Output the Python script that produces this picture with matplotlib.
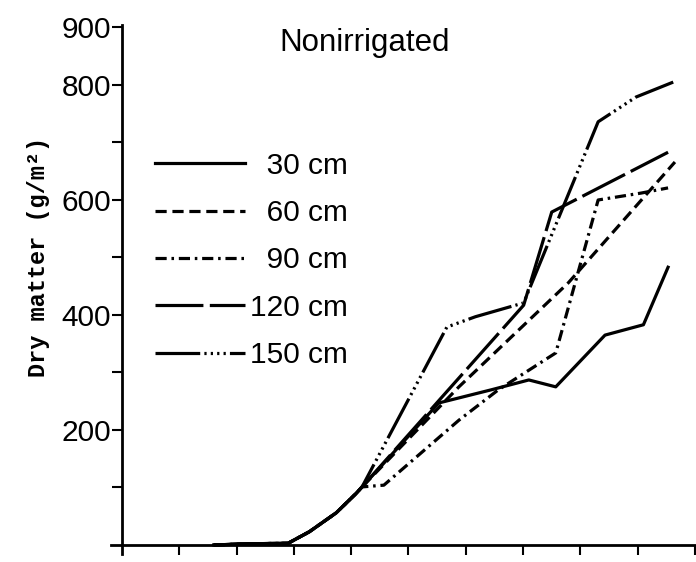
import matplotlib
matplotlib.use("Agg")
import matplotlib.pyplot as plt

# shared early part of the growth curves (x in tick units, dry matter g/m2)
x_early = [1.6, 2.2, 2.9, 3.27, 3.74, 4.09, 4.19]
y_early = [0, 2, 3, 23, 56, 90, 101]

x_30 = x_early + [5.53, 6.45, 7.10, 7.57, 8.43, 9.10, 9.53]
y_30 = y_early + [247, 270, 287, 275, 365, 383, 483]

x_60 = x_early + [5.88, 7.79, 9.65]
y_60 = y_early + [275, 456, 666]

x_90 = x_early + [4.57, 5.88, 6.57, 7.57, 8.31, 9.06, 9.53]
y_90 = y_early + [104, 217, 270, 334, 600, 612, 621]

x_120 = x_early + [7.01, 7.50, 9.53]
y_120 = y_early + [417, 579, 683]

x_150 = x_early + [5.67, 6.17, 7.01, 8.31, 8.97, 9.62]
y_150 = y_early + [379, 397, 421, 736, 779, 805]

# figure space in front of the short labels keeps them right aligned
labels = ["\u200730 cm", "\u200760 cm", "\u200790 cm", "120 cm", "150 cm"]
yticks = [100, 200, 300, 400, 500, 600, 700, 800, 900]
yticklabels = ["", "200", "", "400", "", "600", "", "800", "900"]

fig = plt.figure(figsize=(6.96, 5.62), dpi=100)
ax = fig.add_axes([110.5 / 696, 8.4 / 562, 584.5 / 696, 529 / 562])

lw = 2.3
ax.plot(x_30, y_30, color="black", lw=lw, label=labels[0])
ax.plot(x_60, y_60, color="black", lw=lw, ls=(0, (3.5, 1.8)), label=labels[1])
ax.plot(x_90, y_90, color="black", lw=lw, ls=(0, (3.5, 1.5, 0.8, 1.5)), label=labels[2])
ax.plot(x_120, y_120, color="black", lw=lw, ls=(0, (15, 2)), label=labels[3])
ax.plot(x_150, y_150, color="black", lw=lw,
        ls=(0, (14, 1.3, 0.7, 1.3, 0.7, 1.3, 0.7, 1.3, 0.7, 1.3)), label=labels[4])

ax.set_xlim(-0.2, 10)
ax.set_ylim(-15, 905)
for s in ["top", "right"]:
    ax.spines[s].set_visible(False)
ax.spines["left"].set_position(("data", 0))
ax.spines["bottom"].set_position(("data", 0))
ax.spines["left"].set_linewidth(2)
ax.spines["bottom"].set_linewidth(2)

ax.set_xticks(range(1, 11))
ax.set_xticklabels([])
ax.set_yticks(yticks)
ax.set_yticklabels(yticklabels, fontfamily="Liberation Sans", fontsize=21.5)
ax.tick_params(axis="both", direction="out", length=7, width=1.5, pad=1)

ax.set_ylabel("Dry matter (g/m²)", fontfamily="Liberation Mono",
              fontweight="bold", fontsize=17)
ax.yaxis.set_label_coords(-0.1035, 0.561)

ax.text(0.435, 0.966, "Nonirrigated", transform=ax.transAxes,
        ha="center", va="center", fontfamily="Liberation Sans", fontsize=22.5)

ax.legend(loc="upper left", bbox_to_anchor=(0.076, 0.760), frameon=False,
          borderpad=0, borderaxespad=0, handlelength=3.0, handletextpad=0.2,
          labelspacing=0.65, prop={"family": "Liberation Sans", "size": 21.5})

fig.savefig("out.png", dpi=100)
